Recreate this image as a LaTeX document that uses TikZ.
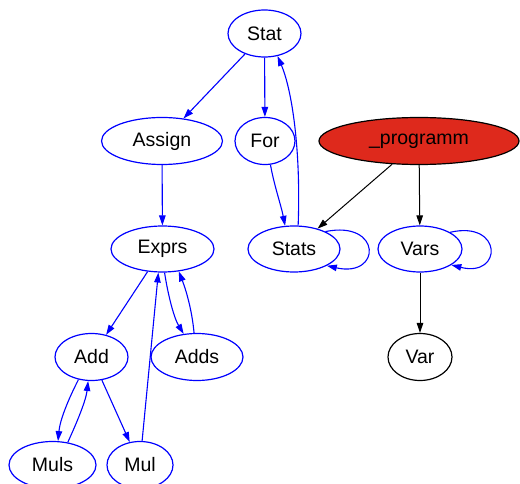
\documentclass[tikz,border=0pt]{standalone}
\usepackage{fontspec}
\setmainfont{Liberation Sans}
\usetikzlibrary{arrows.meta,shapes.geometric}
\definecolor{gblue}{RGB}{0,0,255}
\definecolor{gred}{RGB}{222,41,28}
\begin{document}
\begin{tikzpicture}[x=1pt,y=-1pt,
  nd/.style={ellipse,draw=gblue,line width=1.2pt,inner sep=0pt,minimum height=47pt,
    font=\fontsize{19.5}{22}\selectfont},
  be/.style={draw=gblue,line width=1.1pt,-{Triangle[length=10pt,width=6.5pt]}},
  ke/.style={draw=black,line width=1.0pt,-{Triangle[length=10pt,width=6.5pt]}}]
\useasboundingbox (0,0) rectangle (520,484);
% nodes
\node[nd,minimum width=73pt] (Stat) at (264.5,33.5) {Stat};
\node[nd,minimum width=121pt] (Assign) at (162,141) {Assign};
\node[nd,minimum width=60pt] (For) at (265,141) {For};
\node[nd,draw=black,fill=gred,minimum width=200pt] (prog) at (419,141) {\_programm};
\node[nd,minimum width=103pt,minimum height=46pt] (Exprs) at (162.5,249) {Exprs};
\node[nd,minimum width=92pt,minimum height=46pt] (Stats) at (294,249) {Stats};
\node[nd,minimum width=84pt,minimum height=46pt] (Vars) at (420,249) {Vars};
\node[nd,draw=black,minimum width=64pt] (Var) at (420,357) {Var};
\node[nd,minimum width=73pt] (Add) at (91.5,357) {Add};
\node[nd,minimum width=92pt] (Adds) at (197,357) {Adds};
\node[nd,minimum width=87pt] (Muls) at (52.5,465) {Muls};
\node[nd,minimum width=66pt] (Mul) at (140,465) {Mul};
% blue edges
\draw[be] (Stat) -- (Assign);
\draw[be] (Stat) -- (For);
\draw[be] (For.-77) .. controls (274,185) and (281,205) .. (Stats.111);
\draw[be] (Stats.80) .. controls (301,150) and (292,90) .. (Stat.-60);
\draw[be] (Assign) -- (Exprs);
\draw[be] (Exprs) -- (Add);
\draw[be] (Exprs.-85) .. controls (168,295) and (174,318) .. (Adds.120);
\draw[be] (Adds.97) .. controls (192,310) and (186,290) .. (Exprs.-54);
\draw[be] (Mul.85) -- (Exprs.-100);
\draw[be] (Add.-120) .. controls (68,400) and (60,420) .. (Muls.77);
\draw[be] (Muls.56) .. controls (78,420) and (86,400) .. (Add.-98);
\draw[be] (Add) -- (Mul);
\draw[be] (Stats.29) .. controls (382,220) and (382,278) .. (Stats.-27);
\draw[be] (Vars.29) .. controls (503,220) and (503,278) .. (Vars.-27);
% black edges
\draw[ke] (prog) -- (Stats);
\draw[ke] (prog) -- (Vars);
\draw[ke] (Vars) -- (Var);
\end{tikzpicture}
\end{document}
